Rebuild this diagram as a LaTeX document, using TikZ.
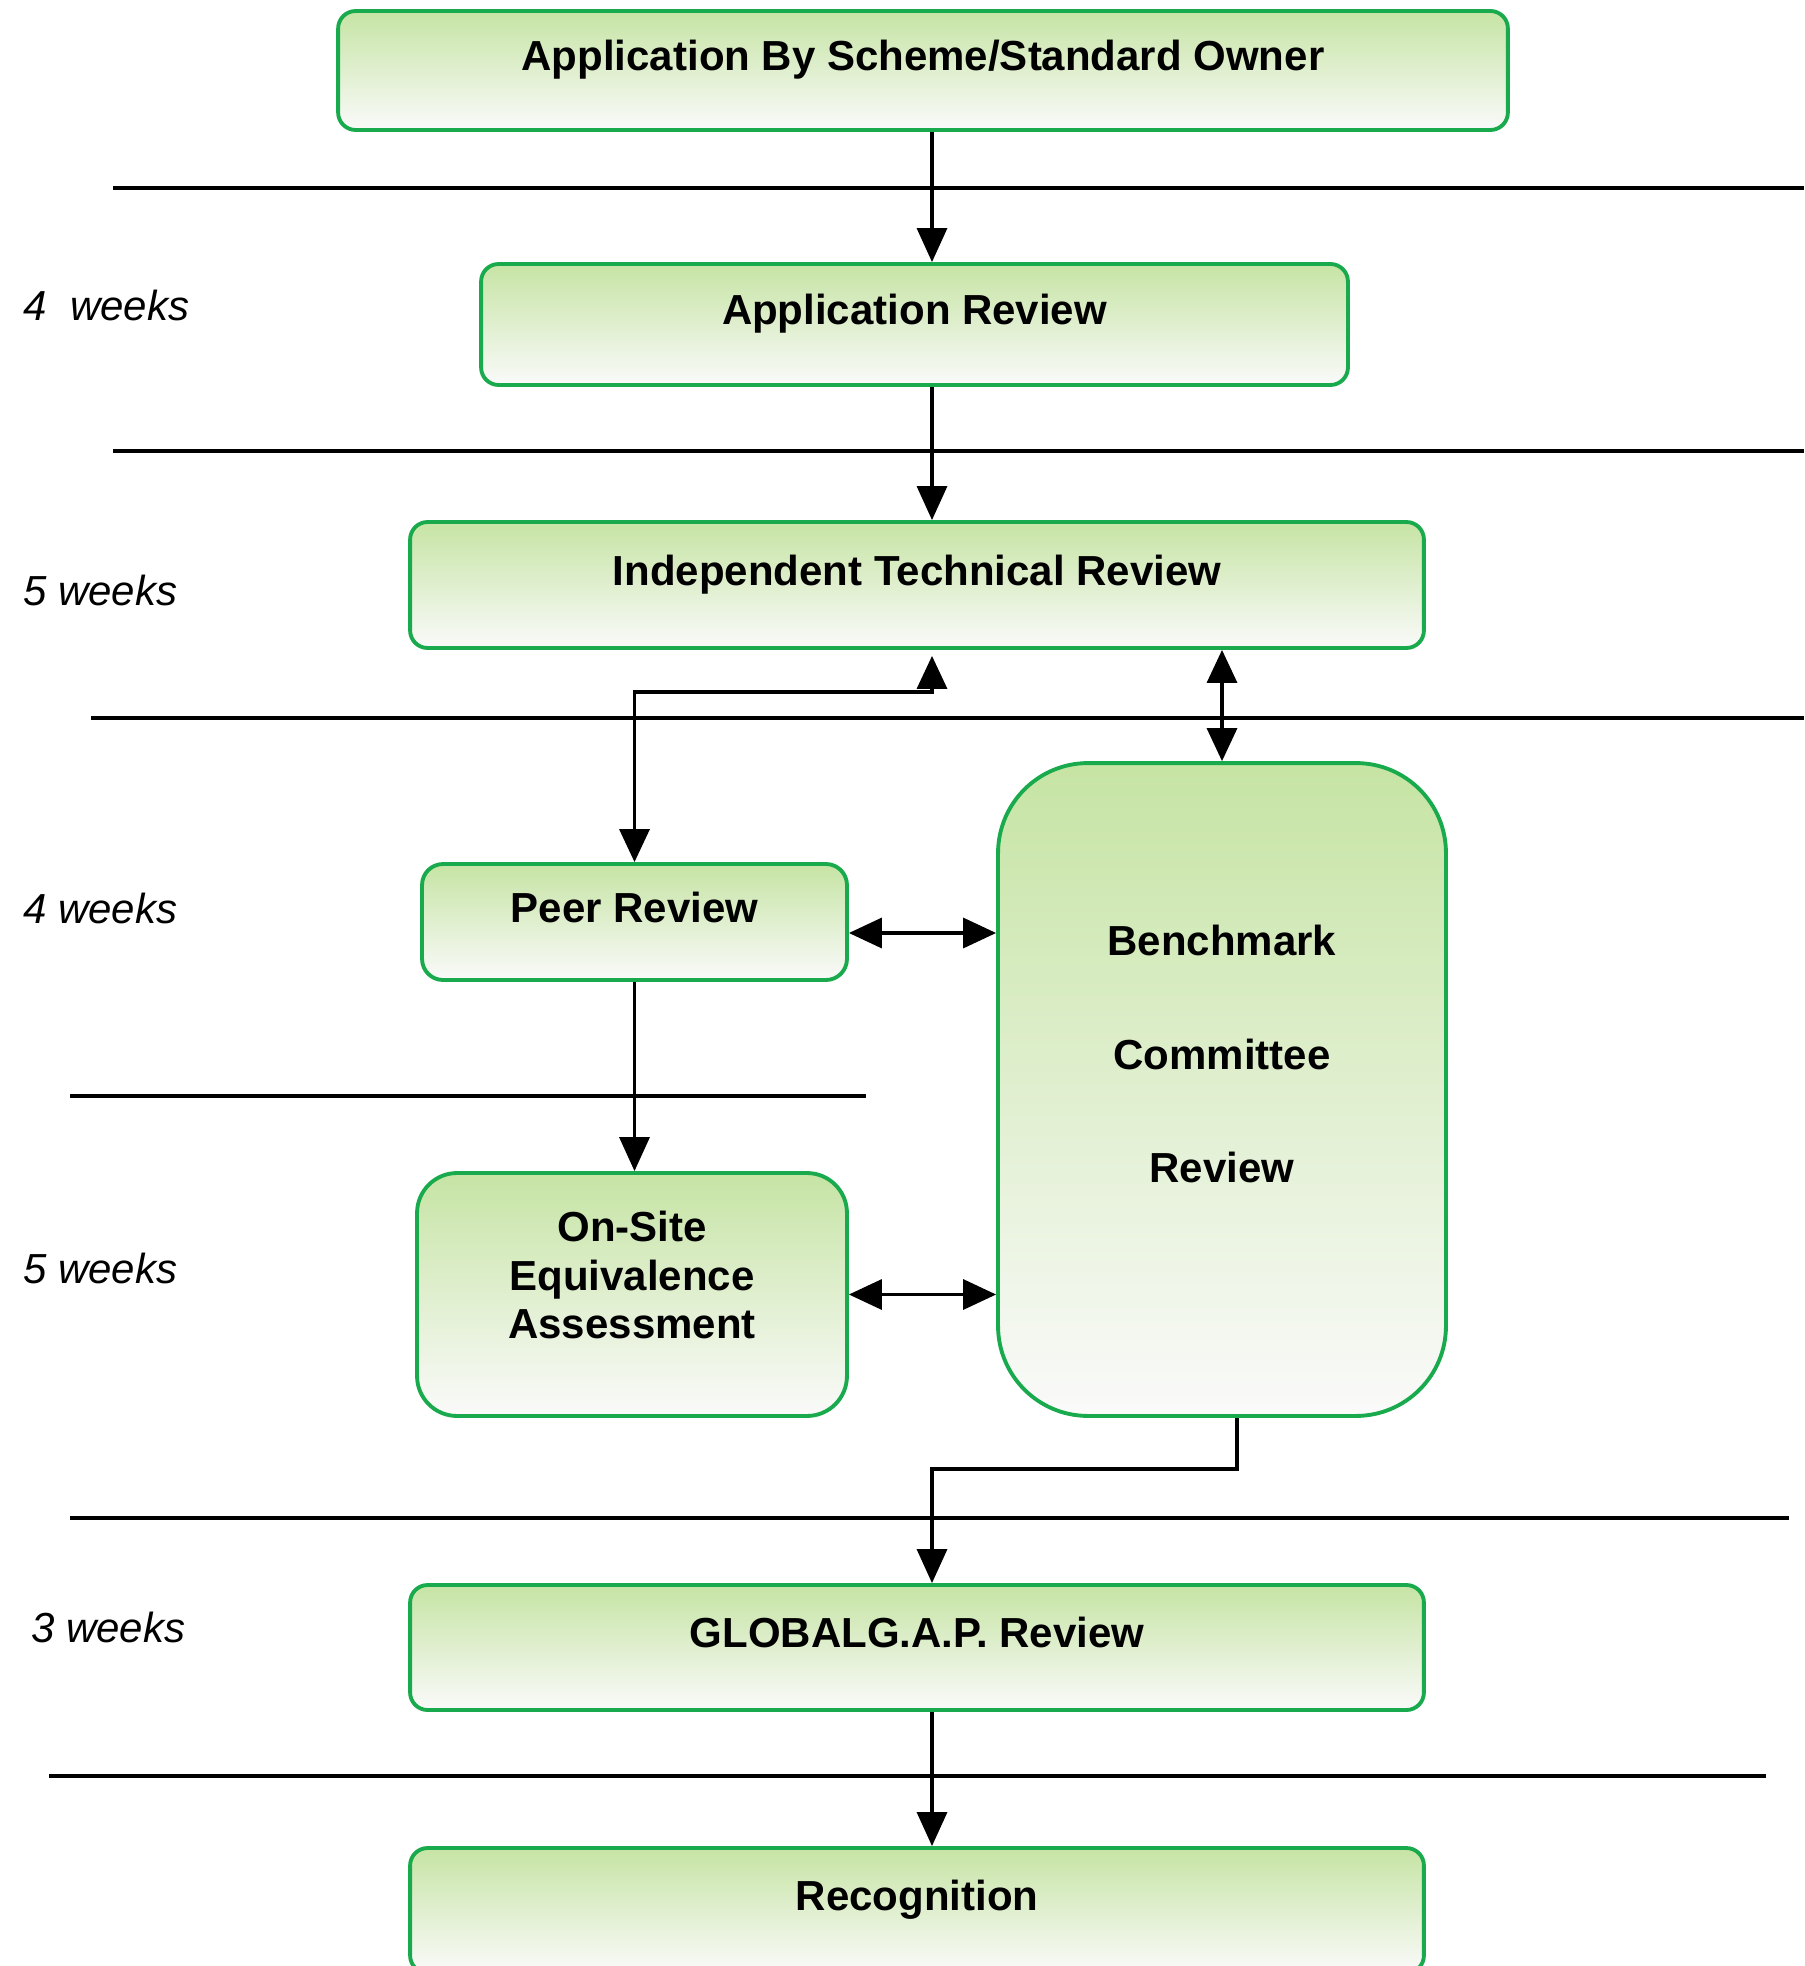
\documentclass[tikz,border=0pt]{standalone}
\usepackage{fontspec}
\setmainfont{Liberation Sans}
\usepackage{xcolor}
\usepackage{tikz}
\usetikzlibrary{calc,arrows.meta}

\definecolor{boxline}{RGB}{24,170,76}
\definecolor{boxtop}{RGB}{198,228,164}
\definecolor{boxbot}{RGB}{250,250,250}

\tikzset{
  stagebox/.style={draw=boxline, line width=2.2pt, rounded corners=0.35cm,
    top color=boxtop, bottom color=boxbot, inner sep=0pt,
    font=\bfseries\fontsize{23.9pt}{27.6pt}\selectfont},
  stage/.style={stagebox, text height=0.65cm, text depth=0.65cm},
  flow/.style={line width=1.9pt, -{Triangle[length=0.68cm,width=0.6cm]}},
  link/.style={line width=1.9pt, {Triangle[length=0.66cm,width=0.6cm]}-{Triangle[length=0.66cm,width=0.6cm]}},
  sepline/.style={line width=2pt},
  period/.style={anchor=base west, inner sep=0pt,
    font=\itshape\fontsize{23.9pt}{27.6pt}\selectfont},
}

\begin{document}
\begin{tikzpicture}[x=0.02cm,y=-0.02cm]
			\useasboundingbox (0,0) rectangle (1804,1966);
			
			% week separators
			\foreach \y/\xa/\xb in {188/113/1804, 451/113/1804, 718/91/1804, 1096/70/866, 1518/70/1789, 1776/49/1766} {
				\draw[sepline] (\xa,\y) -- (\xb,\y);
			}
			
			\node[period] (wk1) at (23,321) {4\ \ weeks};
			\node[period] (wk2) at (23,605) {5 weeks};
			\node[period] (wk3) at (23,923) {4 weeks};
			\node[period] (wk4) at (23,1283) {5 weeks};
			\node[period] (wk5) at (31,1642) {3 weeks};
			
			% stages
			\node[stage, minimum width=23.4cm, minimum height=2.38cm] (apply) at (923,70.5) {Application By Scheme/Standard Owner};
			\node[stage, minimum width=17.34cm, minimum height=2.42cm] (appreview) at (914.5,324.5) {Application Review};
			\node[stage, minimum width=20.28cm, minimum height=2.52cm] (itr) at (917,585) {Independent Technical Review};
			\node[stage, minimum width=8.5cm, minimum height=2.32cm, rounded corners=0.42cm] (peer) at (634.5,922) {Peer Review};
			\node[stagebox, align=center, minimum width=8.6cm, minimum height=4.86cm, rounded corners=0.8cm, text depth=0.78cm] (onsite) at (632,1294.5) {On-Site\\Equivalence\\Assessment};
			\node[stagebox, align=center, minimum width=8.96cm, minimum height=13.06cm, rounded corners=1.8cm, text depth=1.42cm,
				font=\bfseries\fontsize{23.9pt}{64.6pt}\selectfont] (bench) at (1222,1089.5) {Benchmark\\Committee\\Review};
			\node[stage, minimum width=20.28cm, minimum height=2.5cm] (glob) at (917,1647.5) {GLOBALG.A.P. Review};
			\node[stage, minimum width=20.28cm, minimum height=2.5cm] (recog) at (917,1910.5) {Recognition};
			
			\coordinate (spine) at (932,0);
			
			% connectors
			\draw[flow] (apply.south -| spine) -- (appreview.north -| spine);
			\draw[flow] (appreview.south -| spine) -- (itr.north -| spine);
			\draw[link] (peer.north) |- ($(itr.south -| spine)+(0,42)$) -- ($(itr.south -| spine)+(0,6)$);
			\draw[link] (itr.south -| bench.north) -- (bench.north);
			\draw[link] ($(peer.east)+(0,11)$) -- ($(peer.east -| bench.west)+(0,11)$);
			\draw[flow] (peer.south) -- (onsite.north -| peer.south);
			\draw[link] (onsite.east) -- (onsite.east -| bench.west);
			\draw[flow] ($(bench.south)+(15,0)$) -- ++(0,51) -| (glob.north -| spine);
			\draw[flow] (glob.south -| spine) -- (recog.north -| spine);
		\end{tikzpicture}
\end{document}
